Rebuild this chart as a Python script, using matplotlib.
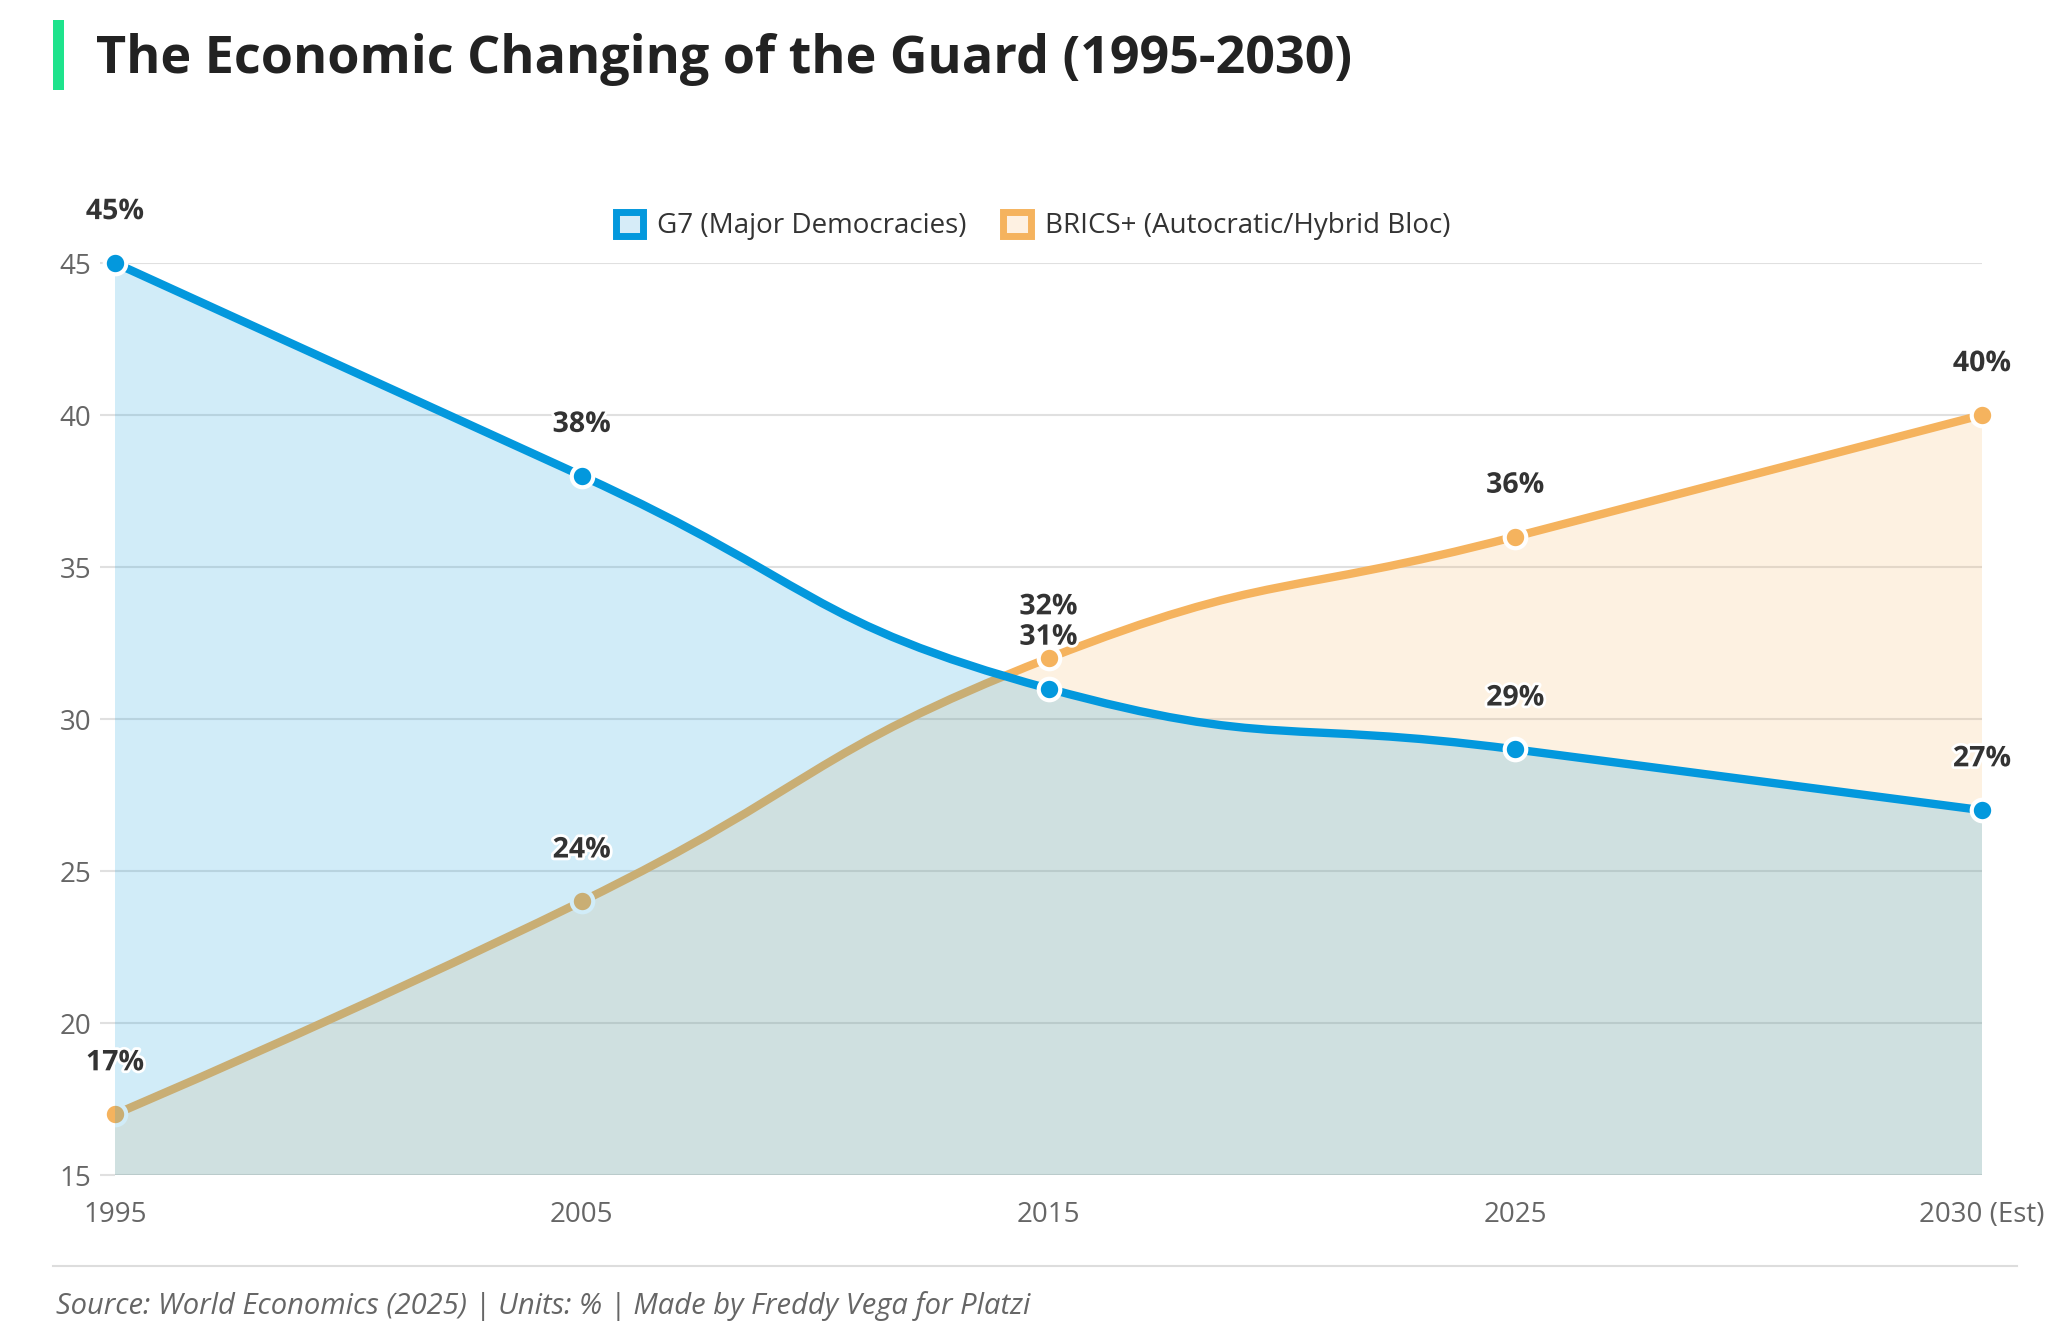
import numpy as np
import matplotlib
matplotlib.use('Agg')
import matplotlib.pyplot as plt
from matplotlib.path import Path
from matplotlib.patches import PathPatch, Patch, Rectangle
from matplotlib.lines import Line2D
import matplotlib.patheffects as pe

years = ['1995', '2005', '2015', '2025', '2030 (Est)']
g7 = [45, 38, 31, 29, 27]
brics = [17, 24, 32, 36, 40]
series_names = ['G7 (Major Democracies)', 'BRICS+ (Autocratic/Hybrid Bloc)']

BLUE = '#0398dd'
ORANGE = '#f5b35e'
W, H = 2070, 1330

plt.rcParams['font.family'] = ['Open Sans', 'DejaVu Sans']

fig = plt.figure(figsize=(W / 100, H / 100), dpi=100)
ax = fig.add_axes([115 / W, 155 / H, (1982 - 115) / W, (1175 - 263) / H])
ax.set_xlim(0, len(years) - 1)
ax.set_ylim(15, 45)


def smooth_curve(xs, ys, smooth=0.5):
    # echarts-like smoothing, done in pixel space
    pts = ax.transData.transform(np.column_stack([xs, ys]))
    n = len(pts)
    verts = [tuple(pts[0])]
    codes = [Path.MOVETO]
    cp0 = tuple(pts[0])
    for i in range(1, n):
        x, y = pts[i]
        px, py = pts[i - 1]
        if i == n - 1:
            cp1 = (x, y)
            ncp = None
        else:
            nx, ny = pts[i + 1]
            vx, vy = nx - px, ny - py
            l0 = np.hypot(x - px, y - py)
            l1 = np.hypot(nx - x, ny - y)
            r = l1 / (l0 + l1)
            ncx = x + vx * smooth * r
            ncy = y + vy * smooth * r
            ncx = max(min(ncx, max(nx, x)), min(nx, x))
            ncy = max(min(ncy, max(ny, y)), min(ny, y))
            vx, vy = ncx - x, ncy - y
            c1x = x - vx * l0 / l1
            c1y = y - vy * l0 / l1
            c1x = max(min(c1x, max(px, x)), min(px, x))
            c1y = max(min(c1y, max(py, y)), min(py, y))
            vx, vy = x - c1x, y - c1y
            ncp = (x + vx * l1 / l0, y + vy * l1 / l0)
            cp1 = (c1x, c1y)
        verts += [cp0, cp1, (x, y)]
        codes += [Path.CURVE4] * 3
        cp0 = ncp
    verts = ax.transData.inverted().transform(np.array(verts))
    return verts, codes


def draw_series(vals, color, z):
    xs = np.arange(len(vals))
    verts, codes = smooth_curve(xs, vals)
    # area down to axis minimum
    fv = np.vstack([verts, [[xs[-1], 15], [xs[0], 15], [xs[0], 15]]])
    fc = codes + [Path.LINETO, Path.LINETO, Path.CLOSEPOLY]
    ax.add_patch(PathPatch(Path(fv, fc), facecolor=color, alpha=0.18,
                           edgecolor='none', zorder=z))
    ax.add_patch(PathPatch(Path(verts, codes), fill=False, edgecolor=color,
                           lw=6, capstyle='round', joinstyle='round',
                           clip_on=False, zorder=z + 0.1))
    ax.plot(xs, vals, 'o', ms=15.5, mfc=color, mec='white', mew=3,
            clip_on=False, zorder=z + 0.2)
    for x, v in zip(xs, vals):
        ax.annotate(f'{v}%', (x, v), xytext=(0, 37), textcoords='offset points',
                    ha='center', va='center', fontsize=20.5, fontweight='bold',
                    color='#333333', zorder=10, annotation_clip=False,
                    path_effects=[pe.withStroke(linewidth=4, foreground='white')])


draw_series(brics, ORANGE, 2)
draw_series(g7, BLUE, 3)

ax.set_xticks(range(len(years)))
ax.set_xticklabels(years)
ax.set_yticks(range(15, 46, 5))
ax.grid(axis='y', color='#e0e0e0', lw=1.5)
ax.set_axisbelow(True)
for s in ax.spines.values():
    s.set_visible(False)
ax.tick_params(axis='y', length=11, width=1.5, color='#e0e0e0', pad=6,
               labelsize=20, labelcolor='#666666')
ax.tick_params(axis='x', length=0, pad=19, labelsize=20, labelcolor='#666666')

handles = [Patch(facecolor='#d6ecf8', edgecolor=BLUE, lw=5),
           Patch(facecolor='#fef1e2', edgecolor=ORANGE, lw=5)]
leg = fig.legend(handles, series_names, loc='center', bbox_to_anchor=(0.499, 1 - 226 / H),
                 ncol=2, frameon=False, fontsize=20, handlelength=1.0, handleheight=1.0,
                 handletextpad=0.5, columnspacing=1.3)
for t in leg.get_texts():
    t.set_color('#333333')

# title with accent bar
fig.add_artist(Rectangle((53 / W, 1 - 90 / H), 11 / W, 70 / H, transform=fig.transFigure,
                         color='#1ee38c', lw=0))
fig.text(96 / W, 1 - 60 / H, 'The Economic Changing of the Guard (1995-2030)',
         fontsize=37.5, fontweight='bold', va='center', color='#222222')

# footer
fig.add_artist(Line2D([53 / W, 2017 / W], [1 - 1266 / H] * 2, color='#dddddd', lw=1.5))
fig.text(56 / W, 1 - 1306 / H,
         'Source: World Economics (2025) | Units: % | Made by Freddy Vega for Platzi',
         fontsize=21, style='italic', color='#666666', va='center')

fig.savefig('out.png', dpi=100)
